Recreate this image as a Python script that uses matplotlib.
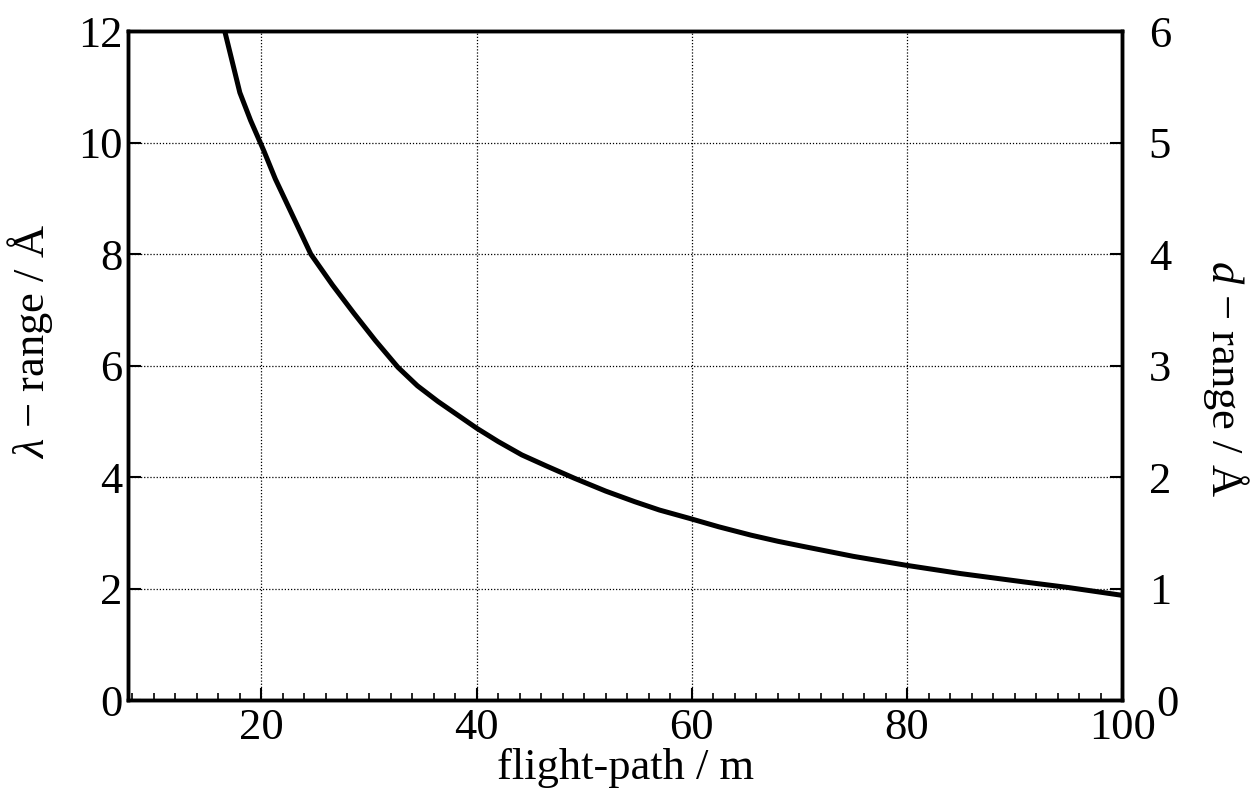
import numpy as np
import matplotlib
matplotlib.use("Agg")
import matplotlib.pyplot as plt
import matplotlib.transforms as mtransforms
from matplotlib.ticker import MultipleLocator

plt.rcParams['font.family'] = ['Liberation Serif', 'DejaVu Serif']
plt.rcParams['mathtext.fontset'] = 'custom'
plt.rcParams['mathtext.rm'] = 'Liberation Serif'
plt.rcParams['mathtext.it'] = 'Liberation Serif:italic'

# values
flight_path = [16.6, 17.3, 18.0, 19.0, 20.2, 21.3, 22.4, 23.5, 24.6, 26.6,
               28.6, 30.6, 32.7, 34.5, 36.4, 38.2, 40.0, 42.0, 44.2, 46.5,
               49.1, 52.0, 54.7, 57.0, 59.8, 62.5, 65.5, 68.0, 70.3, 75.0,
               79.9, 85.0, 90.9, 95.0, 100.0]
lambda_range = [12.0, 11.45, 10.9, 10.4, 9.87, 9.35, 8.9, 8.45, 8.0, 7.45,
                6.94, 6.45, 5.97, 5.64, 5.36, 5.12, 4.88, 4.64, 4.4, 4.2,
                3.98, 3.75, 3.56, 3.41, 3.26, 3.11, 2.96, 2.85, 2.76, 2.58,
                2.42, 2.27, 2.12, 2.02, 1.88]

x_ticks = [20, 40, 60, 80, 100]
y_ticks = [0, 2, 4, 6, 8, 10, 12]
y2_ticks = [0, 1, 2, 3, 4, 5, 6]

fig = plt.figure(figsize=(12.54, 8.02), dpi=100)
ax = fig.add_axes([0.102, 0.127, 0.793, 0.834])

ax.plot(flight_path, lambda_range, color="black", linewidth=3.6,
        solid_joinstyle="round", zorder=3)

ax.set_xlim(7.6, 100)
ax.set_ylim(0, 12)
ax.set_xticks(x_ticks)
ax.set_yticks(y_ticks)
ax.xaxis.set_minor_locator(MultipleLocator(2))
ax.grid(True, which="major", color="black", linestyle=(0, (1, 1.5)),
        linewidth=0.9)

for s in ax.spines.values():
    s.set_linewidth(2.5)

ax.tick_params(axis="both", which="major", direction="in", length=9,
               width=1.5, labelsize=32, top=False, right=False)
ax.tick_params(axis="x", which="minor", direction="in", length=5,
               width=1.2)
ax.tick_params(axis="x", which="major", pad=6)
ax.tick_params(axis="y", which="major", pad=4)

ax.set_xlabel("flight-path / m", fontsize=32, labelpad=0)

ax2 = ax.twinx()
ax2.set_ylim(0, 6)
ax2.set_yticks(y2_ticks)
ax2.tick_params(axis="y", direction="in", length=9, width=1.5,
                labelsize=32, pad=19)
for s in ax2.spines.values():
    s.set_linewidth(2.5)

# nudge the right-hand "0" so it clears "100"
shift = mtransforms.ScaledTranslation(8 / 100, 0, fig.dpi_scale_trans)
lab0 = ax2.get_yticklabels()[0]
lab0.set_transform(lab0.get_transform() + shift)

# axis titles placed as in the original
fig.text(30 / 1254, 1 - 342 / 802, r"$\lambda$ − range / Å", fontsize=32,
         rotation=90, ha="center", va="center")
fig.text(1226 / 1254, 1 - 378 / 802, r"$d$ − range / Å", fontsize=32,
         rotation=270, ha="center", va="center")

fig.savefig("out.png", dpi=100)
